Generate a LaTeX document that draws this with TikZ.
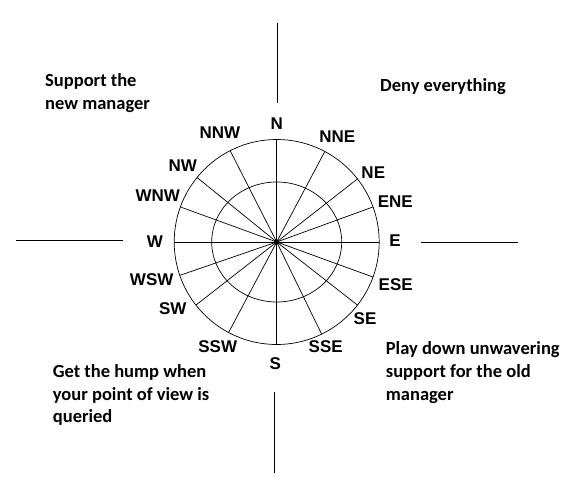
\documentclass[tikz,border=0pt]{standalone}
\usepackage{fontspec}
\newfontfamily\labelfont{Liberation Sans}
\newfontfamily\notefont{Carlito}
\begin{document}
\begin{tikzpicture}[x=1pt,y=1pt]
    \tikzset{
        dir/.style={font=\labelfont\fontsize{17}{18}\selectfont\bfseries, inner sep=0pt},
        remark/.style={font=\notefont\fontsize{18.5}{22.6}\selectfont\bfseries, align=left, anchor=base west, inner sep=0pt},
        axis/.style={line width=1.1pt},
        ring/.style={line width=0.7pt}
    }
    \useasboundingbox (-276.7,-240) rectangle (295.3,242);

    \coordinate (c) at (0,0);
    \draw[ring] (c) circle (102.5pt);
    \draw[ring] (c) ellipse (65pt and 60pt);
    \foreach \a in {0,20,38,62,90,117,141,160,180,199,218,242,270,296,322,340}{
        \coordinate (s\a) at (\a:102.5pt);
        \draw[ring] (c) -- (s\a);
    }
    \fill (c) circle (2.8pt);

    % compass points
    \foreach \t/\x/\y in {N/0/118, NNE/60.6/105.3, NE/96.6/69.3, ENE/118.6/40.3,
        E/118.3/1, ESE/119/-42.3, SE/88.3/-76.3, SSE/49/-104.7,
        S/-1.4/-121.3, SSW/-59/-104.7, SW/-104/-66.3, WSW/-125/-38,
        W/-121.7/0.3, WNW/-119/46, NW/-94/76, NNW/-56.7/109.3}{
        \node[dir] (\t) at (\x,\y) {\t};
    }

    % axes
    \coordinate (nt) at (0.6,218.7);
    \coordinate (nb) at (0.6,138.7);
    \coordinate (st) at (-2.4,-150.3);
    \coordinate (sb) at (-2.4,-230.7);
    \coordinate (wl) at (-260.7,1.3);
    \coordinate (wr) at (-153.4,1.3);
    \coordinate (el) at (144,-0.3);
    \coordinate (er) at (241.6,-0.3);
    \draw[axis] (nt) -- (nb);
    \draw[axis] (st) -- (sb);
    \draw[axis] (wl) -- (wr);
    \draw[axis] (el) -- (er);

    % base of the last line
    \node[remark] (newmgr) at (-231.7,132.7) {Support the\\new manager};
    \node[remark] (deny) at (103.3,150.3) {Deny everything};
    \node[remark] (oldmgr) at (109,-158) {Play down unwavering\\support for the old\\manager};
    \node[remark] (hump) at (-224,-180.7) {Get the hump when\\your point of view is\\queried};
\end{tikzpicture}
\end{document}
